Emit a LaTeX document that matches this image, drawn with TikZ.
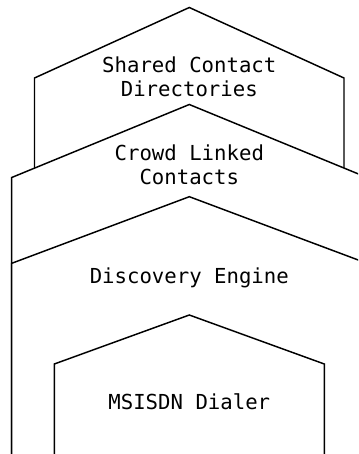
\documentclass[tikz,border=0pt]{standalone}
\usepackage{fontspec}
\setmonofont{DejaVu Sans Mono}
\begin{document}
\begin{tikzpicture}[x=0.75pt,y=-0.75pt,
  layer/.style={draw=black, fill=white, line width=1.1pt, line join=miter},
  caption/.style={font=\ttfamily\fontsize{15.5}{18}\selectfont, align=center, anchor=base, inner sep=0pt}]
  \useasboundingbox (0,0) rectangle (358,454);
  \clip (0,0) rectangle (358,454);
  % stacked layers, back to front; the base anchor sits on the last text line
  \draw[layer] (34.5,480) -- (34.5,78) -- (189.3,7.5) -- (344,78) -- (344,480);
  \node[caption] (shared) at (189.3,96.7) {Shared Contact\\Directories};
  \draw[layer] (11.7,480) -- (11.7,177.5) -- (189.3,104.5) -- (367,177.5) -- (367,480);
  \node[caption] (crowd) at (189.3,184) {Crowd Linked\\Contacts};
  \draw[layer] (11.7,480) -- (11.7,263.3) -- (189.3,196.7) -- (367,263.3) -- (367,480);
  \node[caption] (discovery) at (189.3,283.3) {Discovery Engine};
  \draw[layer] (54.3,480) -- (54.3,364) -- (189.3,315) -- (324.3,364) -- (324.3,480);
  \node[caption] (dialer) at (189.3,409) {MSISDN Dialer};
\end{tikzpicture}
\end{document}
